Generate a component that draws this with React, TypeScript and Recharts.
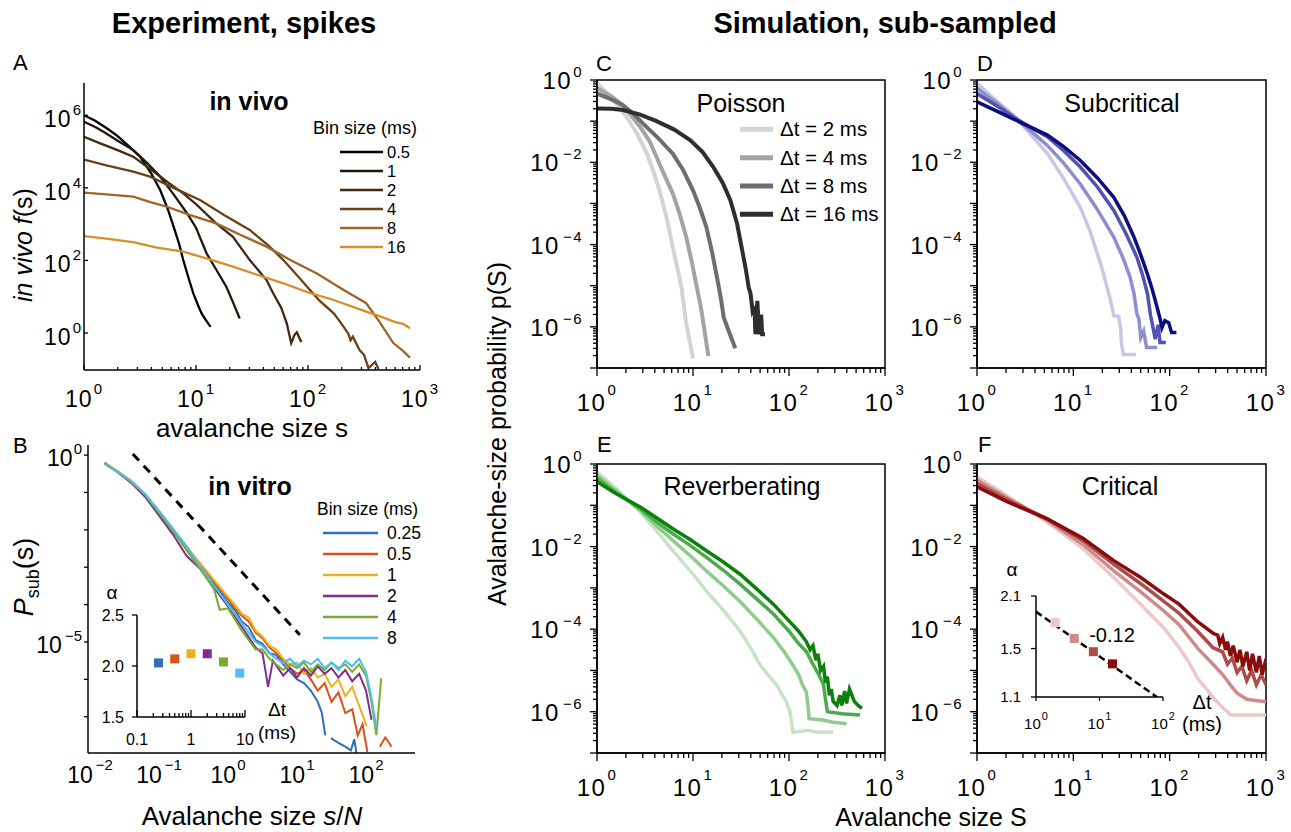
import React from 'react'
import { LineChart, ComposedChart, Line, Scatter, XAxis, YAxis, ReferenceArea, Cell } from 'recharts'

const FONT = '"Liberation Sans", Arial, Helvetica, sans-serif'

// A: in vivo f(s), points are [log10 s, log10 f]
const vivoBins = ['0.5', '1', '2', '4', '8', '16']
const vivoColors = ['#000000', '#22150a', '#432a12', '#6a4119', '#9e6528', '#d98d2b']
const vivo05 = [[0, 6.0], [0.1, 5.85], [0.2, 5.65], [0.29, 5.45], [0.4, 5.15], [0.5, 4.86], [0.6, 4.4], [0.68, 3.94], [0.75, 3.4], [0.8, 2.93], [0.85, 2.45], [0.886, 2.01], [0.93, 1.55], [0.976, 1.09], [1.02, 0.75], [1.05, 0.54], [1.09, 0.35], [1.13, 0.17]]
const vivo1 = [[0, 5.82], [0.1, 5.68], [0.2, 5.5], [0.3, 5.3], [0.44, 5.04], [0.56, 4.7], [0.68, 4.31], [0.8, 3.82], [0.92, 3.3], [1.0, 2.9], [1.095, 2.19], [1.18, 1.75], [1.27, 1.28], [1.33, 0.85], [1.39, 0.4]]
const vivo2 = [[0, 5.41], [0.15, 5.22], [0.3, 5.04], [0.44, 4.86], [0.6, 4.5], [0.75, 4.15], [0.886, 3.85], [1.0, 3.55], [1.18, 3.02], [1.33, 2.65], [1.48, 2.01], [1.63, 1.46], [1.69, 1.09], [1.76, 0.7], [1.81, 0.27], [1.85, -0.28], [1.88, -0.05], [1.9, 0.02], [1.94, -0.25]]
const vivo4 = [[0, 4.78], [0.2, 4.62], [0.44, 4.45], [0.59, 4.31], [0.8, 4.0], [1.04, 3.66], [1.25, 3.25], [1.48, 2.84], [1.65, 2.4], [1.78, 2.01], [1.9, 1.6], [1.99, 1.28], [2.1, 0.9], [2.23, 0.54], [2.3, 0.25], [2.36, -0.02], [2.38, -0.2], [2.4, -0.1], [2.46, -0.47], [2.5, -0.6], [2.54, -0.97], [2.6, -0.8], [2.63, -1.0]]
const vivo8 = [[0, 3.87], [0.2, 3.82], [0.44, 3.76], [0.6, 3.6], [0.74, 3.48], [0.95, 3.25], [1.18, 3.02], [1.4, 2.7], [1.63, 2.38], [1.85, 2.0], [2.08, 1.64], [2.3, 1.22], [2.52, 0.82], [2.64, 0.3], [2.76, -0.27], [2.85, -0.5], [2.91, -0.68]]
const vivo16 = [[0, 2.67], [0.2, 2.6], [0.45, 2.5], [0.65, 2.35], [0.886, 2.24], [1.1, 2.05], [1.33, 1.83], [1.55, 1.6], [1.78, 1.37], [2.0, 1.12], [2.23, 0.91], [2.4, 0.72], [2.52, 0.59], [2.65, 0.45], [2.78, 0.3], [2.85, 0.25], [2.91, 0.13]]
const vivoSeries = [vivo05, vivo1, vivo2, vivo4, vivo8, vivo16]

// B: in vitro P_sub(s), [log10 s/N, log10 P]
const vitroBins = ['0.25', '0.5', '1', '2', '4', '8']
const vitroColors = ['#2f6fba', '#d95319', '#edb120', '#7e2f8e', '#77ac30', '#4dbeee']
const vitro025 = [[-1.79, -0.22], [-1.6, -0.45], [-1.4, -0.7], [-1.2, -1.05], [-1.0, -1.5], [-0.8, -1.98], [-0.6, -2.45], [-0.4, -2.95], [-0.2, -3.45], [0, -3.95], [0.1, -4.15], [0.2, -4.45], [0.3, -4.6], [0.4, -4.95], [0.5, -5.05], [0.6, -5.3], [0.7, -5.35], [0.8, -5.6], [0.9, -5.8], [1.0, -6.0], [1.1, -6.1], [1.2, -6.3], [1.3, -6.6], [1.36, -6.9], [1.41, -7.5]]
const vitro025b = [[1.49, -7.57], [1.6, -7.7], [1.7, -7.8], [1.78, -7.9], [1.83, -7.6], [1.86, -7.97]]
const vitro05 = [[-1.79, -0.2], [-1.6, -0.44], [-1.4, -0.71], [-1.2, -1.08], [-1.0, -1.55], [-0.8, -2.02], [-0.6, -2.5], [-0.4, -2.93], [-0.2, -3.4], [0, -3.85], [0.1, -4.1], [0.2, -4.3], [0.3, -4.45], [0.4, -4.75], [0.5, -4.9], [0.6, -5.15], [0.7, -5.3], [0.8, -5.5], [0.9, -5.7], [1.0, -5.85], [1.1, -5.75], [1.2, -6.0], [1.3, -6.3], [1.4, -6.1], [1.5, -6.6], [1.6, -6.35], [1.7, -6.9], [1.8, -6.8], [1.88, -7.5], [1.95, -7.2], [2.02, -7.95]]
const vitro05b = [[2.2, -7.8], [2.28, -7.55], [2.37, -7.8]]
const vitro1 = [[-1.79, -0.21], [-1.6, -0.43], [-1.4, -0.7], [-1.2, -1.06], [-1.0, -1.53], [-0.8, -2.0], [-0.6, -2.46], [-0.4, -2.9], [-0.2, -3.35], [0, -3.8], [0.1, -4.0], [0.2, -4.25], [0.3, -4.35], [0.4, -4.7], [0.5, -4.85], [0.6, -5.1], [0.7, -5.2], [0.8, -5.45], [0.9, -5.6], [1.0, -5.55], [1.1, -5.85], [1.2, -5.7], [1.3, -5.95], [1.4, -5.85], [1.5, -6.2], [1.6, -6.0], [1.7, -6.45], [1.8, -6.2], [1.9, -6.7], [2.01, -7.26]]
const vitro2 = [[-1.79, -0.22], [-1.6, -0.46], [-1.4, -0.75], [-1.2, -1.12], [-1.0, -1.62], [-0.8, -2.12], [-0.6, -2.7], [-0.4, -3.05], [-0.2, -3.55], [0, -4.05], [0.2, -4.6], [0.4, -5.15], [0.5, -5.3], [0.58, -6.2], [0.65, -5.5], [0.8, -5.9], [0.9, -5.7], [1.0, -5.95], [1.1, -5.7], [1.2, -5.9], [1.3, -5.65], [1.4, -5.85], [1.5, -5.7], [1.6, -5.95], [1.7, -5.75], [1.8, -6.05], [1.9, -5.85], [2.0, -6.3], [2.08, -7.08]]
const vitro4 = [[-1.79, -0.22], [-1.6, -0.46], [-1.4, -0.72], [-1.2, -1.07], [-1.0, -1.55], [-0.8, -2.02], [-0.6, -2.55], [-0.4, -3.05], [-0.2, -3.6], [-0.12, -4.14], [0, -4.1], [0.2, -4.7], [0.4, -5.2], [0.5, -5.2], [0.6, -5.45], [0.7, -5.6], [0.8, -5.75], [0.9, -5.6], [1.0, -5.7], [1.1, -5.55], [1.2, -5.8], [1.3, -5.6], [1.4, -5.75], [1.5, -5.55], [1.6, -5.7], [1.7, -5.6], [1.8, -5.8], [1.9, -5.6], [2.0, -5.9], [2.08, -6.6], [2.15, -7.49], [2.22, -5.97]]
const vitro8 = [[-1.79, -0.24], [-1.6, -0.44], [-1.4, -0.7], [-1.2, -1.05], [-1.0, -1.5], [-0.8, -1.96], [-0.6, -2.45], [-0.4, -2.98], [-0.2, -3.5], [0, -4.0], [0.2, -4.5], [0.4, -5.0], [0.5, -5.1], [0.6, -5.3], [0.7, -5.45], [0.8, -5.55], [0.9, -5.45], [1.0, -5.65], [1.1, -5.5], [1.2, -5.6], [1.3, -5.45], [1.4, -5.7], [1.5, -5.55], [1.6, -5.75], [1.7, -5.5], [1.8, -5.65], [1.9, -5.45], [2.0, -5.8], [2.08, -6.5], [2.15, -7.3]]
const vitroSeries = [vitro025, vitro05, vitro1, vitro2, vitro4, vitro8]
const vitroGuide = [[-1.38, 0.03], [1.04, -4.81]]

// B inset: exponent alpha vs bin size
const vitroDt = [0.25, 0.5, 1, 2, 4, 8]
const vitroAlpha = [2.03, 2.07, 2.12, 2.12, 2.04, 1.93]

// C-F: simulation p(S), [log10 S, log10 p], dt = 2, 4, 8, 16 ms
const simDt = ['2', '4', '8', '16']
const poisson = [
  [[0, -0.08], [0.15, -0.42], [0.31, -0.9], [0.42, -1.32], [0.52, -1.79], [0.6, -2.3], [0.66, -2.76], [0.73, -3.4], [0.79, -4.07], [0.84, -4.6], [0.88, -5.04], [0.93, -5.93], [0.97, -6.4], [1.0, -6.77]],
  [[0, -0.2], [0.15, -0.4], [0.27, -0.61], [0.45, -1.14], [0.55, -1.5], [0.62, -1.87], [0.7, -2.3], [0.79, -2.76], [0.86, -3.25], [0.93, -3.82], [0.99, -4.45], [1.04, -5.04], [1.08, -5.5], [1.11, -5.93], [1.16, -6.71]],
  [[0, -0.33], [0.15, -0.47], [0.27, -0.61], [0.38, -0.82], [0.48, -1.06], [0.64, -1.42], [0.79, -1.79], [0.9, -2.2], [1.0, -2.68], [1.07, -3.1], [1.14, -3.58], [1.2, -4.2], [1.25, -4.8], [1.29, -5.3], [1.32, -5.77], [1.38, -6.15], [1.44, -6.52]],
  [[0, -0.69], [0.15, -0.7], [0.27, -0.73], [0.45, -0.84], [0.62, -1.0], [0.8, -1.2], [0.97, -1.46], [1.1, -1.75], [1.21, -2.11], [1.31, -2.5], [1.39, -2.93], [1.46, -3.5], [1.52, -4.23], [1.55, -4.6], [1.58, -5.04], [1.6, -5.2], [1.62, -5.6], [1.64, -5.5], [1.65, -6.18], [1.67, -5.37], [1.69, -6.18], [1.71, -5.7], [1.72, -6.18], [1.75, -6.18]],
]
const subcritical = [
  [[0, -0.08], [0.2, -0.5], [0.38, -0.85], [0.55, -1.3], [0.73, -1.79], [0.9, -2.4], [1.07, -3.09], [1.17, -3.65], [1.25, -4.23], [1.3, -4.6], [1.35, -5.04], [1.38, -5.3], [1.42, -5.73], [1.47, -5.75], [1.49, -6.02], [1.5, -6.4], [1.52, -6.67], [1.65, -6.67]],
  [[0, -0.2], [0.2, -0.55], [0.38, -0.9], [0.55, -1.22], [0.73, -1.59], [0.9, -2.02], [1.07, -2.52], [1.25, -3.15], [1.42, -3.82], [1.52, -4.35], [1.59, -4.8], [1.63, -5.2], [1.66, -5.69], [1.68, -5.8], [1.7, -6.26], [1.73, -6.1], [1.76, -6.5], [1.87, -6.5]],
  [[0, -0.33], [0.2, -0.62], [0.38, -0.9], [0.55, -1.14], [0.73, -1.38], [0.9, -1.72], [1.07, -2.11], [1.25, -2.6], [1.42, -3.17], [1.55, -3.75], [1.66, -4.31], [1.72, -4.75], [1.77, -5.2], [1.8, -5.7], [1.82, -5.93], [1.85, -6.3], [1.88, -5.95], [1.9, -6.38], [1.96, -6.38]],
  [[0, -0.53], [0.2, -0.75], [0.38, -0.95], [0.55, -1.14], [0.73, -1.34], [0.9, -1.62], [1.07, -1.95], [1.25, -2.38], [1.42, -2.85], [1.53, -3.3], [1.63, -3.82], [1.7, -4.25], [1.77, -4.72], [1.82, -5.1], [1.87, -5.53], [1.9, -5.8], [1.92, -6.02], [1.95, -5.85], [1.99, -5.9], [2.02, -6.14], [2.07, -6.14]],
]
const reverberating = [
  [[0, -0.19], [0.2, -0.6], [0.45, -1.16], [0.62, -1.62], [0.79, -2.1], [0.97, -2.58], [1.14, -3.08], [1.32, -3.55], [1.49, -4.05], [1.6, -4.45], [1.7, -4.87], [1.78, -5.1], [1.87, -5.35], [1.93, -5.6], [1.97, -5.75], [2.01, -6.0], [2.03, -6.3], [2.04, -6.5], [2.2, -6.45], [2.3, -6.5], [2.46, -6.49]],
  [[0, -0.27], [0.2, -0.65], [0.45, -1.12], [0.62, -1.5], [0.79, -1.85], [0.97, -2.22], [1.14, -2.59], [1.32, -2.96], [1.49, -3.33], [1.66, -3.75], [1.84, -4.21], [1.95, -4.55], [2.04, -4.87], [2.1, -5.1], [2.14, -5.35], [2.18, -5.52], [2.2, -5.9], [2.21, -6.17], [2.35, -6.2], [2.45, -6.25], [2.6, -6.29]],
  [[0, -0.35], [0.2, -0.7], [0.45, -1.08], [0.62, -1.4], [0.79, -1.69], [0.97, -1.97], [1.14, -2.26], [1.32, -2.58], [1.49, -2.91], [1.66, -3.26], [1.84, -3.64], [2.0, -4.05], [2.1, -4.35], [2.18, -4.54], [2.25, -4.85], [2.31, -5.1], [2.36, -5.35], [2.38, -5.7], [2.4, -6.0], [2.55, -6.05], [2.74, -6.08]],
  [[0, -0.43], [0.2, -0.72], [0.45, -1.04], [0.62, -1.3], [0.79, -1.57], [0.97, -1.83], [1.14, -2.1], [1.32, -2.38], [1.49, -2.67], [1.66, -3.02], [1.84, -3.4], [2.0, -3.8], [2.1, -4.05], [2.18, -4.3], [2.22, -4.5], [2.25, -4.4], [2.28, -4.75], [2.3, -4.6], [2.33, -5.0], [2.36, -4.9], [2.38, -5.3], [2.4, -5.15], [2.42, -5.6], [2.44, -5.45], [2.46, -5.75], [2.5, -5.85], [2.53, -5.6], [2.55, -5.85], [2.58, -5.5], [2.6, -5.8], [2.63, -5.45], [2.68, -5.75], [2.72, -5.85], [2.76, -5.92]],
]
const critical = [
  [[0, -0.31], [0.3, -0.75], [0.73, -1.41], [1.1, -2.05], [1.42, -2.75], [1.7, -3.4], [1.94, -3.97], [2.1, -4.45], [2.2, -4.8], [2.29, -5.19], [2.4, -5.5], [2.46, -5.68], [2.55, -5.9], [2.6, -6.0], [2.63, -6.08], [2.8, -6.08], [3.0, -6.08]],
  [[0, -0.39], [0.3, -0.8], [0.73, -1.37], [1.1, -1.95], [1.42, -2.59], [1.7, -3.1], [1.94, -3.56], [2.1, -3.9], [2.29, -4.46], [2.45, -4.85], [2.55, -5.1], [2.63, -5.35], [2.7, -5.55], [2.8, -5.7], [3.0, -5.76]],
  [[0, -0.47], [0.3, -0.85], [0.73, -1.33], [1.1, -1.85], [1.42, -2.43], [1.7, -2.9], [1.94, -3.33], [2.1, -3.62], [2.29, -4.05], [2.45, -4.45], [2.55, -4.55], [2.6, -4.85], [2.65, -4.7], [2.7, -5.05], [2.75, -4.9], [2.8, -5.25], [2.85, -5.0], [2.9, -5.35], [2.95, -5.1], [3.0, -5.35]],
  [[0, -0.55], [0.3, -0.9], [0.73, -1.33], [1.1, -1.8], [1.42, -2.34], [1.7, -2.75], [1.94, -3.15], [2.1, -3.4], [2.29, -3.82], [2.45, -4.1], [2.5, -4.15], [2.52, -4.35], [2.55, -4.2], [2.58, -4.5], [2.6, -4.3], [2.63, -4.65], [2.66, -4.4], [2.7, -4.8], [2.73, -4.5], [2.76, -4.9], [2.8, -4.55], [2.83, -5.0], [2.86, -4.6], [2.9, -5.05], [2.93, -4.65], [2.96, -5.1], [3.0, -4.72]],
]
const grays = ['#d4d4d4', '#a3a3a3', '#6e6e6e', '#2e2e2e']
const blues = ['#c8c8e6', '#8e8ecf', '#5252b2', '#0c0c80']
const greens = ['#c6e4c4', '#8fcc8c', '#4caa4a', '#0b800b']
const reds = ['#ebc9c9', '#cd8a8a', '#ad4a4a', '#8b0b0b']

// F inset
const critDt = [2, 4, 8, 16]
const critAlpha = [1.77, 1.6, 1.47, 1.36]
const critFit = [[1, 1.9], [80, 1.1]]

const pts = (a: number[][]) => a.map(([lx, ly]) => ({ x: 10 ** lx, y: 10 ** ly }))
const raw = (a: number[][]) => a.map(([x, y]) => ({ x, y }))

const withMinor = (lo: number, hi: number) => {
  const t: number[] = []
  for (let e = lo; e < hi; e++) for (let k = 1; k < 10; k++) t.push(k * 10 ** e)
  t.push(10 ** hi)
  return t
}
const decades = (lo: number, hi: number) => {
  const t: number[] = []
  for (let e = lo; e <= hi; e++) t.push(10 ** e)
  return t
}

const same = (a: number, b: number) => Math.abs(a - b) <= Math.abs(b) * 1e-9
const isDecade = (v: number) => Math.abs(Math.log10(v) - Math.round(Math.log10(v))) < 1e-9

type TickOpts = {
  side: 'x' | 'y'
  major: number
  minor: number
  inward?: boolean
  fs?: number
  ss?: number
  ls?: number
  off: number
  base?: number
  sdy?: number
  labeled?: number[]
  fmt?: (v: number) => string
  allMajor?: boolean
}

const makeTick = (o: TickOpts) => (p: any) => {
  const { x, y } = p
  const v: number = p.payload.value
  const isMajor = o.allMajor || isDecade(v)
  const len = isMajor ? o.major : o.minor
  const s = o.inward ? -1 : 1
  const show = !!o.fs && isMajor && (!o.labeled || o.labeled.some(l => same(v, l)))
  const e = Math.round(Math.log10(v))
  const body = o.fmt ? o.fmt(v) : (
    <>10<tspan dx={e < 0 ? 3 : 1} dy={o.sdy} fontSize={o.ss}>{e < 0 ? '\u2212' + -e : String(e)}</tspan></>
  )
  const ls = o.ls ?? 0
  if (o.side === 'x') return (
    <g>
      {len > 0 && <line x1={x} x2={x} y1={y} y2={y + s * len} stroke="#000" strokeWidth={1.3} />}
      {show && <text x={x} y={y + o.off} textAnchor="middle" fontSize={o.fs} letterSpacing={ls} fill="#000">{body}</text>}
    </g>
  )
  return (
    <g>
      {len > 0 && <line x1={x} x2={x - s * len} y1={y} y2={y} stroke="#000" strokeWidth={1.3} />}
      {show && <text x={x - o.off} y={y + (o.base ?? 0)} textAnchor="end" fontSize={o.fs} letterSpacing={ls} fill="#000">{body}</text>}
    </g>
  )
}

const AXIS = { stroke: '#000', strokeWidth: 1.5 }
const axisCommon = { type: 'number' as const, allowDataOverflow: true, interval: 0 as const, tickLine: false, tickSize: 0, tickMargin: 0, axisLine: AXIS }

const A_X = makeTick({ side: 'x', major: 5, minor: 3, inward: true, fs: 23, ss: 15, ls: 1, off: 37, sdy: -13 })
const A_Y = makeTick({ side: 'y', major: 4, minor: 0, inward: true, fs: 23, ss: 15, ls: 1, off: 2, base: 12, sdy: -12 })
const B_X = makeTick({ side: 'x', major: 0, minor: 0, fs: 23, ss: 15, off: 30, sdy: -13 })
const B_Y = makeTick({ side: 'y', major: 4, minor: 0, fs: 23, ss: 15, off: 6, base: 11, sdy: -12, labeled: [1, 1e-5] })
const S_X = makeTick({ side: 'x', major: 8, minor: 5, fs: 24, ss: 15, ls: 1.5, off: 43, sdy: -16 })
const S_Y = makeTick({ side: 'y', major: 7, minor: 4, fs: 24, ss: 15, ls: 1.5, off: 14, base: 9, sdy: -12, labeled: [1, 1e-2, 1e-4, 1e-6] })
const IB_X = makeTick({ side: 'x', major: 7, minor: 4, inward: true, fs: 16, off: 28, fmt: v => (v < 1 ? v.toFixed(1) : String(Math.round(v))) })
const IB_Y = makeTick({ side: 'y', major: 5, minor: 0, fs: 16, off: 13, base: 6, allMajor: true, fmt: v => v.toFixed(1) })
const IF_X = makeTick({ side: 'x', major: 4, minor: 0, fs: 15, ss: 11, off: 32, sdy: -9 })
const IF_Y = makeTick({ side: 'y', major: 5, minor: 0, fs: 15, off: 15, base: 5, allMajor: true, fmt: v => v.toFixed(1) })

const PT = 30
const PR = 30
const wrap = (l: number, t: number, pl: number) => ({ position: 'absolute' as const, left: l - pl, top: t - PT })
const margin = { top: PT, right: PR, left: 0, bottom: 0 }

function PanelA() {
  const [l, t, w, h, pl, pb] = [84, 83, 336, 287, 80, 60]
  return (
    <div style={wrap(l, t, pl)}>
      <LineChart width={w + pl + PR} height={h + PT + pb} margin={margin}>
        <XAxis {...axisCommon} dataKey="x" scale="log" domain={[1, 1000]} ticks={withMinor(0, 3)} tick={A_X} height={pb} />
        <YAxis {...axisCommon} scale="log" domain={[10 ** -1.02, 10 ** 6.89]} ticks={[1, 1e2, 1e4, 1e6]} tick={A_Y} width={pl} />
        {vivoSeries.map((s, i) => (
          <Line key={i} data={pts(s)} dataKey="y" stroke={vivoColors[i]} strokeWidth={2.3} dot={false} isAnimationActive={false} type="linear" />
        ))}
      </LineChart>
    </div>
  )
}

function PanelB() {
  const [l, t, w, h, pl, pb] = [88, 445, 327, 308, 80, 50]
  return (
    <div style={wrap(l, t, pl)}>
      <LineChart width={w + pl + PR} height={h + PT + pb} margin={margin}>
        <XAxis {...axisCommon} dataKey="x" scale="log" domain={[10 ** -2.03, 10 ** 2.71]} ticks={decades(-2, 2)} tick={B_X} height={pb} />
        <YAxis {...axisCommon} scale="log" domain={[10 ** -7.97, 10 ** 0.27]} ticks={decades(-7, 0)} tick={B_Y} width={pl} />
        <Line data={pts(vitroGuide)} dataKey="y" stroke="#000" strokeWidth={3} strokeDasharray="9 7" dot={false} isAnimationActive={false} type="linear" />
        {vitroSeries.map((s, i) => (
          <Line key={i} data={pts(s)} dataKey="y" stroke={vitroColors[i]} strokeWidth={2} dot={false} isAnimationActive={false} type="linear" />
        ))}
        <Line data={pts(vitro025b)} dataKey="y" stroke={vitroColors[0]} strokeWidth={2} dot={false} isAnimationActive={false} type="linear" />
        <Line data={pts(vitro05b)} dataKey="y" stroke={vitroColors[1]} strokeWidth={2} dot={false} isAnimationActive={false} type="linear" />
      </LineChart>
    </div>
  )
}

const SIM_X: [number, number] = [1, 1000]
const SIM_Y: [number, number] = [1e-7, 1]

function SimPanel({ box, series, colors, sw }: { box: number[]; series: number[][][]; colors: string[]; sw: number }) {
  const [l, t, w, h] = box
  const pl = 90, pb = 60
  return (
    <div style={wrap(l, t, pl)}>
      <LineChart width={w + pl + PR} height={h + PT + pb} margin={margin}>
        <XAxis {...axisCommon} dataKey="x" scale="log" domain={SIM_X} ticks={withMinor(0, 3)} tick={S_X} height={pb} />
        <YAxis {...axisCommon} scale="log" domain={SIM_Y} ticks={withMinor(-7, 0)} tick={S_Y} width={pl} />
        <ReferenceArea x1={SIM_X[0]} x2={SIM_X[1]} y1={SIM_Y[0]} y2={SIM_Y[1]} fill="none" fillOpacity={0} stroke="#000" strokeWidth={1.5} ifOverflow="visible" />
        {series.map((s, i) => (
          <Line key={i} data={pts(s)} dataKey="y" stroke={colors[i]} strokeWidth={sw} dot={false} isAnimationActive={false} type="linear" />
        ))}
      </LineChart>
    </div>
  )
}

const square = (p: any) => <rect x={p.cx - 4.5} y={p.cy - 4.5} width={9} height={9} fill={p.fill} />

function InsetB() {
  const [l, t, w, h, pl, pb] = [137, 615, 108, 102, 40, 40]
  const data = vitroDt.map((x, i) => ({ x, y: vitroAlpha[i] }))
  return (
    <div style={wrap(l, t, pl)}>
      <ComposedChart width={w + pl + PR} height={h + PT + pb} margin={margin}>
        <XAxis {...axisCommon} dataKey="x" scale="log" domain={[0.1, 10]} ticks={withMinor(-1, 1)} tick={IB_X} height={pb} />
        <YAxis {...axisCommon} domain={[1.5, 2.5]} ticks={[1.5, 2.0, 2.5]} tick={IB_Y} width={pl} />
        <Scatter data={data} dataKey="y" shape={square} isAnimationActive={false}>
          {data.map((_, i) => <Cell key={i} fill={vitroColors[i]} />)}
        </Scatter>
      </ComposedChart>
    </div>
  )
}

function InsetF() {
  const [l, t, w, h, pl, pb] = [1036, 596, 127, 101, 40, 40]
  const data = critDt.map((x, i) => ({ x, y: critAlpha[i] }))
  return (
    <div style={wrap(l, t, pl)}>
      <ComposedChart width={w + pl + PR} height={h + PT + pb} margin={margin}>
        <XAxis {...axisCommon} dataKey="x" scale="log" domain={[1, 100]} ticks={[1, 10, 100]} tick={IF_X} height={pb} />
        <YAxis {...axisCommon} scale="log" domain={[1.1, 2.1]} ticks={[1.1, 1.5, 2.1]} tick={IF_Y} width={pl} />
        <Line data={raw(critFit)} dataKey="y" stroke="#000" strokeWidth={2.5} strokeDasharray="7 4" dot={false} isAnimationActive={false} type="linear" />
        <Scatter data={data} dataKey="y" shape={square} isAnimationActive={false}>
          {data.map((_, i) => <Cell key={i} fill={reds[i]} />)}
        </Scatter>
      </ComposedChart>
    </div>
  )
}

function Labels() {
  const aRows = [152, 171, 190, 209, 228, 247]
  const bRows = [533, 554, 575, 596, 617, 638]
  const cRows = [129.3, 157.7, 186, 214.3]
  return (
    <svg width={1291} height={832} style={{ position: 'absolute', left: 0, top: 0, pointerEvents: 'none' }} fontFamily={FONT}>
      <text x={244} y={33} textAnchor="middle" fontSize={29} fontWeight="bold">Experiment, spikes</text>
      <text x={885} y={33} textAnchor="middle" fontSize={29} fontWeight="bold">Simulation, sub-sampled</text>

      <text x={13} y={70} fontSize={22}>A</text>
      <text x={13} y={453} fontSize={22}>B</text>
      <text x={596} y={71} fontSize={22}>C</text>
      <text x={977} y={71} fontSize={22}>D</text>
      <text x={597} y={452} fontSize={22}>E</text>
      <text x={978} y={452} fontSize={22}>F</text>

      <text x={32} y={245} transform="rotate(-90 32 245)" textAnchor="middle" fontSize={25}>
        <tspan fontStyle="italic">in vivo f</tspan>(s)
      </text>
      <text x={252} y={437} textAnchor="middle" fontSize={26}>avalanche size s</text>
      <text x={249} y={110} textAnchor="middle" fontSize={25} fontWeight="bold">in vivo</text>
      <text x={313} y={134} fontSize={18}>Bin size (ms)</text>
      {vivoBins.map((b, i) => (
        <g key={b}>
          <line x1={340} x2={383} y1={aRows[i]} y2={aRows[i]} stroke={vivoColors[i]} strokeWidth={2.5} />
          <text x={387} y={aRows[i] + 6} fontSize={16.5}>{b}</text>
        </g>
      ))}

      <text x={33} y={577} transform="rotate(-90 33 577)" textAnchor="middle" fontSize={27}>
        <tspan fontStyle="italic">P</tspan><tspan fontSize={18} dy={6}>sub</tspan><tspan dy={-6}>(s)</tspan>
      </text>
      <text x={252} y={825} textAnchor="middle" fontSize={26}>
        Avalanche size <tspan fontStyle="italic">s</tspan>/<tspan fontStyle="italic">N</tspan>
      </text>
      <text x={250} y={495} textAnchor="middle" fontSize={25} fontWeight="bold">in vitro</text>
      <text x={317} y={515} fontSize={17.5}>Bin size (ms)</text>
      {vitroBins.map((b, i) => (
        <g key={b}>
          <line x1={323} x2={378} y1={bRows[i]} y2={bRows[i]} stroke={vitroColors[i]} strokeWidth={2.5} />
          <text x={387} y={bRows[i] + 6} fontSize={17.5}>{b}</text>
        </g>
      ))}
      <text x={112} y={599} textAnchor="middle" fontSize={19}>α</text>
      <text x={277} y={716} textAnchor="middle" fontSize={19}>Δt</text>
      <text x={277} y={739} textAnchor="middle" fontSize={19}>(ms)</text>

      <text x={506} y={434} transform="rotate(-90 506 434)" textAnchor="middle" fontSize={25}>Avalanche-size probability p(S)</text>
      <text x={931} y={826} textAnchor="middle" fontSize={25}>Avalanche size S</text>

      <text x={741} y={112} textAnchor="middle" fontSize={25}>Poisson</text>
      {simDt.map((d, i) => (
        <g key={d}>
          <line x1={740} x2={773} y1={cRows[i]} y2={cRows[i]} stroke={grays[i]} strokeWidth={5} />
          <text x={780} y={cRows[i] + 7} fontSize={20.5}>{`Δt = ${d} ms`}</text>
        </g>
      ))}
      <text x={1122} y={112} textAnchor="middle" fontSize={25}>Subcritical</text>
      <text x={742} y={495} textAnchor="middle" fontSize={25}>Reverberating</text>
      <text x={1120} y={495} textAnchor="middle" fontSize={25}>Critical</text>

      <text x={1012} y={576} textAnchor="middle" fontSize={19}>α</text>
      <text x={1112} y={642} textAnchor="middle" fontSize={20}>-0.12</text>
      <text x={1202} y={709} textAnchor="middle" fontSize={20}>Δt</text>
      <text x={1202} y={731} textAnchor="middle" fontSize={20}>(ms)</text>
    </svg>
  )
}

export default function App() {
  return (
    <div style={{ position: 'absolute', left: 0, top: 0, width: 1291, height: 832, background: '#fff', fontFamily: FONT, overflow: 'hidden' }}>
      <PanelA />
      <PanelB />
      <SimPanel box={[597, 80, 288, 288]} series={poisson} colors={grays} sw={4} />
      <SimPanel box={[977, 80, 289, 288]} series={subcritical} colors={blues} sw={3.5} />
      <SimPanel box={[597, 464, 288, 289]} series={reverberating} colors={greens} sw={3.5} />
      <SimPanel box={[977, 464, 289, 289]} series={critical} colors={reds} sw={3.5} />
      <InsetB />
      <InsetF />
      <Labels />
    </div>
  )
}
